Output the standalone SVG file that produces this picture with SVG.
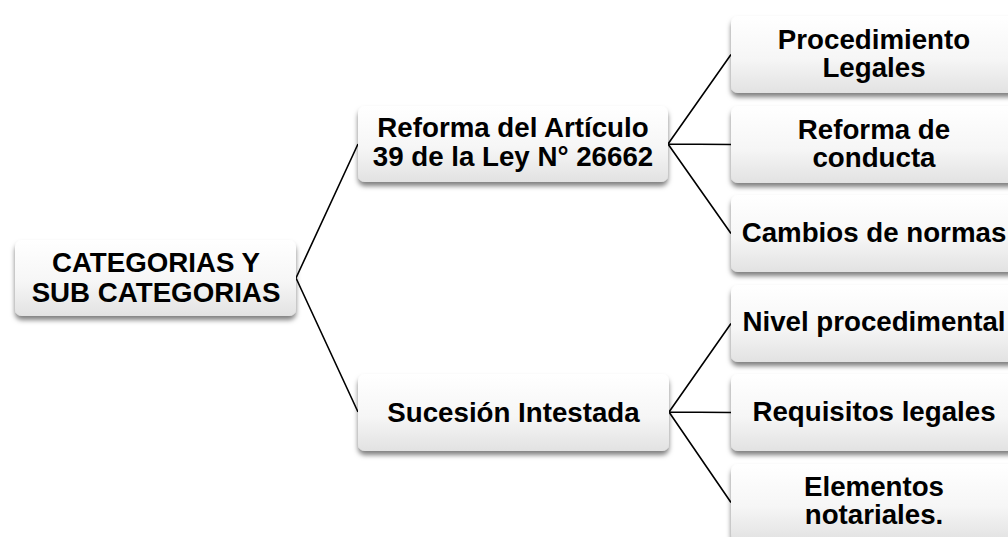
<svg xmlns="http://www.w3.org/2000/svg" width="1008" height="537" viewBox="0 0 1008 537">
<defs>
<linearGradient id="g" x1="0" y1="0" x2="0" y2="1">
<stop offset="0" stop-color="#ffffff"/>
<stop offset="0.55" stop-color="#f6f6f6"/>
<stop offset="1" stop-color="#e2e2e2"/>
</linearGradient>
<filter id="sh" x="-10%" y="-20%" width="120%" height="150%">
<feDropShadow dx="0" dy="4" stdDeviation="2.5" flood-color="#000" flood-opacity="0.5"/>
</filter>
<style>
.box{fill:url(#g);filter:url(#sh);}
.t{font-family:"Liberation Sans",Arial,sans-serif;font-weight:bold;font-size:27.7px;fill:#000;text-anchor:middle;}
.c{stroke:#000;stroke-width:1.6;fill:none;}
</style>
</defs>
<rect width="1008" height="537" fill="#fff"/>
<g id="connectors">
<path class="c" d="M296 278 L358 144 M296 278 L358 412"/>
<path class="c" d="M668 144 L731 54.5 M668 144 L731 144.5 M668 144 L731 233.5"/>
<path class="c" d="M669 412 L731 323.5 M669 412 L731 412.5 M669 412 L731 502.5"/>
</g>
<g id="root">
<rect class="box" x="15" y="240" width="281" height="76" rx="7"/>
<text class="t" x="156" y="272">CATEGORIAS Y</text>
<text class="t" x="156" y="301.5">SUB CATEGORIAS</text>
</g>
<g id="reforma">
<rect class="box" x="358" y="106" width="310" height="76" rx="7"/>
<text class="t" x="513" y="137">Reforma del Artículo</text>
<text class="t" x="513" y="165.5">39 de la Ley N° 26662</text>
</g>
<g id="sucesion">
<rect class="box" x="358" y="374" width="311" height="77" rx="7"/>
<text class="t" x="513.5" y="421.5">Sucesión Intestada</text>
</g>
<g id="procedimiento">
<rect class="box" x="731" y="16" width="286" height="77" rx="7"/>
<text class="t" x="874" y="48.5">Procedimiento</text>
<text class="t" x="874" y="77">Legales</text>
</g>
<g id="reforma-conducta">
<rect class="box" x="731" y="106" width="286" height="77" rx="7"/>
<text class="t" x="874" y="138.5">Reforma de</text>
<text class="t" x="874" y="167">conducta</text>
</g>
<g id="cambios">
<rect class="box" x="731" y="195" width="286" height="77" rx="7"/>
<text class="t" x="874" y="242">Cambios de normas</text>
</g>
<g id="nivel">
<rect class="box" x="731" y="285" width="286" height="77" rx="7"/>
<text class="t" x="874" y="331">Nivel procedimental</text>
</g>
<g id="requisitos">
<rect class="box" x="731" y="374" width="286" height="77" rx="7"/>
<text class="t" x="874" y="421">Requisitos legales</text>
</g>
<g id="elementos">
<rect class="box" x="731" y="464" width="286" height="77" rx="7"/>
<text class="t" x="874" y="495.5">Elementos</text>
<text class="t" x="874" y="524">notariales.</text>
</g>
</svg>
